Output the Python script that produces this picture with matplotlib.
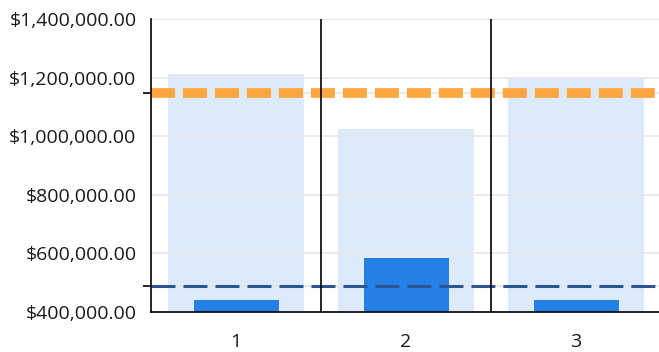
import matplotlib.pyplot as plt
from matplotlib.ticker import FuncFormatter

plt.rcParams['font.family'] = ['Open Sans', 'DejaVu Sans']

# Categories and values
categories = ["1", "2", "3"]
total_values = [1212000, 1025000, 1195000]   # light background bars
actual_values = [441000, 584000, 441000]     # dark foreground bars
upper_ref = 1147000   # orange dashed line
lower_ref = 490000    # navy dashed line
y_min, y_max = 400000, 1400000
y_ticks = [400000, 600000, 800000, 1000000, 1200000, 1400000]

fig = plt.figure(figsize=(6.59, 3.52), dpi=100)
ax = fig.add_axes([151 / 659, (352 - 312) / 352, 510 / 659, 293 / 352])

x = list(range(1, len(categories) + 1))

# background bars, then the actual bars on top
ax.bar(x, [v - y_min for v in total_values], bottom=y_min, width=0.8,
       color='#dceafb', zorder=1)
ax.bar(x, [v - y_min for v in actual_values], bottom=y_min, width=0.5,
       color='#2580e6', zorder=3)

# reference lines (dash 24px, gap 8px)
ax.axhline(upper_ref, color='#ffa640', lw=7, dashes=(2.47, 0.82), zorder=4)
ax.axhline(lower_ref, color='#2c5591', lw=2.2, dashes=(7.85, 2.62), zorder=4)

# separators between categories
for sep in [1.5, 2.5]:
    ax.axvline(sep, color='black', lw=1.2, zorder=5)

ax.set_xlim(0.5, 3.5)
ax.set_ylim(y_min, y_max)
ax.set_xticks(x)
ax.set_xticklabels(categories)
ax.set_yticks(y_ticks)
ax.set_yticks([lower_ref, upper_ref], minor=True)
ax.yaxis.set_major_formatter(FuncFormatter(lambda v, p: f"${v:,.2f}"))

ax.tick_params(axis='both', which='major', length=0, labelsize=14,
               colors='#1a1a1a')
ax.tick_params(axis='x', which='major', pad=15)
ax.tick_params(axis='y', which='major', pad=10.5)
ax.tick_params(axis='y', which='minor', length=6, width=1.2, color='black')
ax.grid(True, axis='y', which='both', color='#e6e6e6', lw=1.2, zorder=2)

for side in ['top', 'right']:
    ax.spines[side].set_visible(False)
for side in ['left', 'bottom']:
    ax.spines[side].set_color('black')
    ax.spines[side].set_linewidth(1.2)
    ax.spines[side].set_zorder(6)

fig.savefig('out.png', dpi=100)
